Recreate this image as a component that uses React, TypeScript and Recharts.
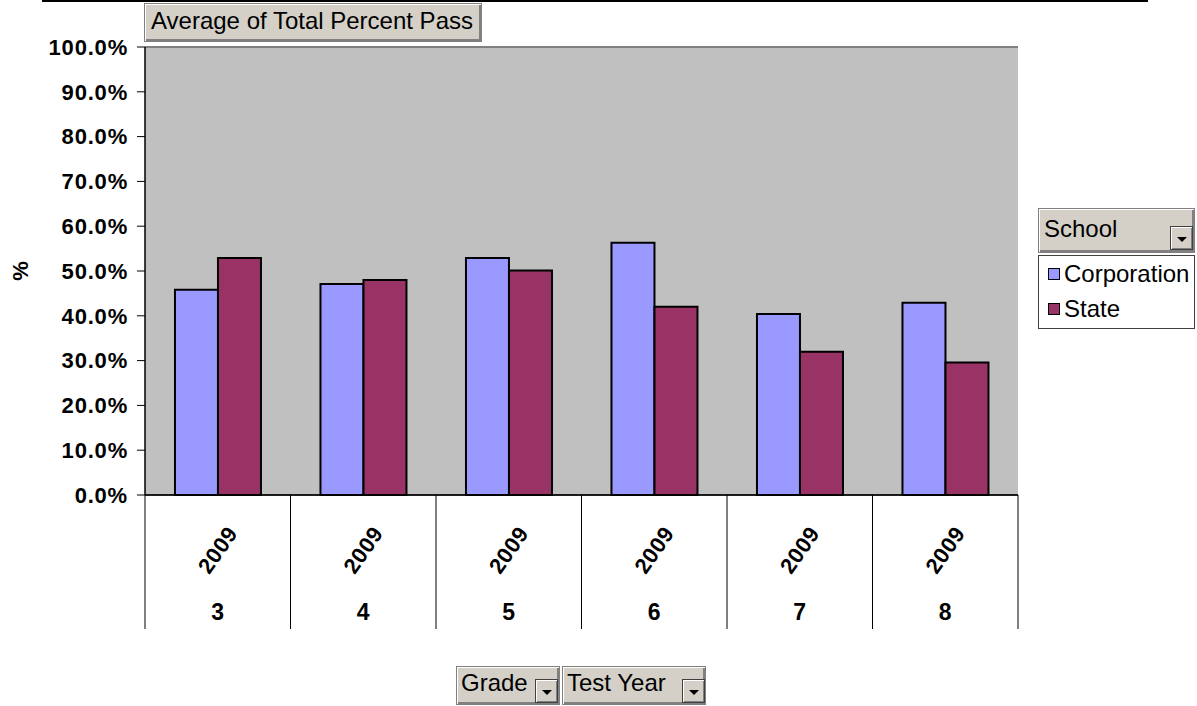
import React from 'react';
import { BarChart, Bar, XAxis, YAxis, CartesianGrid, Legend, ReferenceLine } from 'recharts';

const grades = ['3', '4', '5', '6', '7', '8'];
const testYears = ['2009', '2009', '2009', '2009', '2009', '2009'];
const corporation = [45.8, 47.1, 52.9, 56.3, 40.4, 42.9];
const state = [52.9, 48.0, 50.1, 42.0, 32.0, 29.6];
const yTicks = [0, 10, 20, 30, 40, 50, 60, 70, 80, 90, 100];

const data = grades.map((g, i) => ({
  key: `${g}-${testYears[i]}`,
  grade: g,
  year: testYears[i],
  Corporation: corporation[i],
  State: state[i],
}));

const FONT = '"Liberation Sans", Arial, Helvetica, sans-serif';
const BTN_BG = '#D4D0C8';

const raised: React.CSSProperties = {
  position: 'absolute',
  boxSizing: 'border-box',
  background: BTN_BG,
  border: '1px solid #808080',
  boxShadow: 'inset 1px 1px 0 #ffffff, inset -2px -2px 0 #808080',
  fontFamily: FONT,
  color: '#000',
};

const DropBtn = ({ left, top }: { left: number; top: number }) => (
  <div
    style={{
      ...raised,
      left,
      top,
      width: 23,
      height: 24,
      border: '1px solid #404040',
      boxShadow: 'inset 1px 1px 0 #ffffff, inset -1px -1px 0 #808080',
    }}
  >
    <div
      style={{
        position: 'absolute',
        left: 6,
        top: 10,
        width: 0,
        height: 0,
        borderLeft: '5px solid transparent',
        borderRight: '5px solid transparent',
        borderTop: '5px solid #000',
      }}
    />
  </div>
);

const XTick = (props: any) => {
  const { x, y, payload, index, visibleTicksCount, width } = props;
  const band = typeof width === 'number' && visibleTicksCount ? width / visibleTicksCount : 145.5;
  const d = data[index] || { year: '', grade: payload.value };
  return (
    <g>
      <line x1={x - band / 2} x2={x - band / 2} y1={y} y2={y + 134} stroke="#000" strokeWidth={1} />
      {index === visibleTicksCount - 1 && (
        <line x1={x + band / 2} x2={x + band / 2} y1={y} y2={y + 134} stroke="#000" strokeWidth={1} />
      )}
      <text
        transform={`translate(${x},${y + 55}) rotate(-55)`}
        textAnchor="middle"
        dominantBaseline="central"
        fontFamily={FONT}
        fontWeight="bold"
        fontSize={22}
        letterSpacing={0.5}
        fill="#000"
      >
        {d.year}
      </text>
      <text
        x={x}
        y={y + 117}
        textAnchor="middle"
        dominantBaseline="central"
        fontFamily={FONT}
        fontWeight="bold"
        fontSize={23}
        fill="#000"
      >
        {d.grade}
      </text>
    </g>
  );
};

const LegendContent = (props: any) => {
  const payload = props.payload || [];
  return (
    <div style={{ position: 'relative', width: 157, height: 121, fontFamily: FONT }}>
      <div style={{ ...raised, left: 0, top: 0, width: 157, height: 45 }}>
        <div style={{ position: 'absolute', left: 5, top: 8, fontSize: 24, lineHeight: '24px' }}>School</div>
        <DropBtn left={131} top={17} />
      </div>
      <div
        style={{
          position: 'absolute',
          boxSizing: 'border-box',
          left: 0,
          top: 47,
          width: 157,
          height: 74,
          background: '#fff',
          border: '1px solid #404040',
        }}
      >
        {payload.map((p: any, i: number) => (
          <div
            key={p.value}
            style={{ position: 'absolute', left: 9, top: 4.5 + i * 35.5, height: 26, display: 'flex', alignItems: 'center' }}
          >
            <div
              style={{
                width: 12,
                height: 12,
                boxSizing: 'border-box',
                background: p.color,
                border: '1px solid #000',
                marginRight: 4,
              }}
            />
            <span style={{ fontSize: 24, color: '#000', lineHeight: '26px', whiteSpace: 'nowrap' }}>{p.value}</span>
          </div>
        ))}
      </div>
    </div>
  );
};

export default function App() {
  return (
    <div style={{ position: 'absolute', left: 0, top: 0, width: 1197, height: 706, background: '#fff', overflow: 'hidden' }}>
      <div style={{ position: 'absolute', left: 42, top: 0, width: 1106, height: 2, background: '#000' }} />
      <BarChart
        width={1197}
        height={706}
        data={data}
        margin={{ top: 47, right: 179, bottom: 76, left: 8 }}
        barCategoryGap="20.6%"
        barGap={0}
      >
        <CartesianGrid vertical={false} horizontal stroke="#000" strokeWidth={1} fill="#C0C0C0" fillOpacity={1} />
        <XAxis
          dataKey="key"
          axisLine={{ stroke: '#000', strokeWidth: 1.5 }}
          tickLine={false}
          tickSize={0}
          tickMargin={0}
          height={135}
          interval={0}
          tick={<XTick />}
        />
        <YAxis
          yAxisId="left"
          width={137}
          domain={[0, 100]}
          ticks={yTicks}
          interval={0}
          tickFormatter={(v: number) => `${v.toFixed(1)}%`}
          axisLine={{ stroke: '#000', strokeWidth: 1.5 }}
          tickLine={{ stroke: '#000' }}
          tickSize={8}
          tickMargin={9}
          tick={{ fill: '#000', fontSize: 22, fontWeight: 'bold', fontFamily: FONT, letterSpacing: 0.8 }}
          label={{
            value: '%',
            angle: -90,
            position: 'insideLeft',
            offset: 12,
            style: { textAnchor: 'middle', fontWeight: 'bold', fontSize: 22, fontFamily: FONT, fill: '#000' },
          }}
        />
        <YAxis
          yAxisId="right"
          orientation="right"
          width={0}
          domain={[0, 100]}
          tick={false}
          tickLine={false}
          axisLine={{ stroke: '#808080', strokeWidth: 2 }}
        />
        <ReferenceLine yAxisId="left" y={100} stroke="#808080" strokeWidth={2} />
        <Bar yAxisId="left" dataKey="Corporation" name="Corporation" fill="#9999FF" stroke="#000" strokeWidth={2} isAnimationActive={false} />
        <Bar yAxisId="left" dataKey="State" name="State" fill="#993366" stroke="#000" strokeWidth={2} isAnimationActive={false} />
        <Legend
          layout="vertical"
          align="center"
          verticalAlign="middle"
          wrapperStyle={{ left: 1038, top: 208, width: 157, height: 121 }}
          content={<LegendContent />}
        />
      </BarChart>
      <div style={{ ...raised, left: 144, top: 3, width: 338, height: 39 }}>
        <div style={{ position: 'absolute', left: 6, top: 5, fontSize: 24, lineHeight: '24px', whiteSpace: 'nowrap' }}>
          Average of Total Percent Pass
        </div>
      </div>
      <div style={{ ...raised, left: 456, top: 666, width: 104, height: 39 }}>
        <div style={{ position: 'absolute', left: 4, top: 4, fontSize: 24, lineHeight: '24px' }}>Grade</div>
        <DropBtn left={78} top={12} />
      </div>
      <div style={{ ...raised, left: 562, top: 666, width: 144, height: 39 }}>
        <div style={{ position: 'absolute', left: 4, top: 4, fontSize: 24, lineHeight: '24px', whiteSpace: 'nowrap' }}>Test Year</div>
        <DropBtn left={119} top={12} />
      </div>
    </div>
  );
}
